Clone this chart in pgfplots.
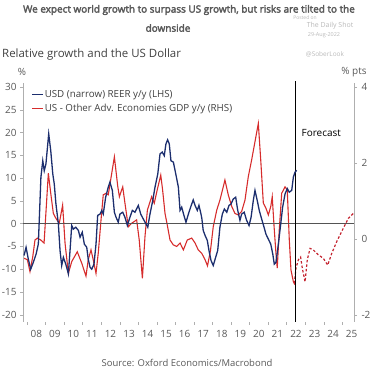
\documentclass[border=0pt]{standalone}
\usepackage{pgfplots}
\pgfplotsset{compat=1.18}
\usepackage{fontspec}
\setmainfont{Open Sans}
\newfontfamily\titlefont{Open Sans}[FakeBold=3]
\definecolor{usdblue}{RGB}{28,46,110}
\definecolor{gdpred}{RGB}{214,44,44}
\definecolor{fcred}{RGB}{196,36,48}
\definecolor{txtgray}{RGB}{89,89,89}
\definecolor{axgray}{RGB}{175,175,175}
\definecolor{wmgray}{RGB}{185,185,185}
\begin{document}
\begin{tikzpicture}[x=1bp,y=1bp]
\path[use as bounding box] (0,0) rectangle (374,370);
% ---- right-hand scale axis (GDP differential, red) ----
\begin{axis}[
  at={(23bp,48bp)}, anchor=south west,
  scale only axis, width=331bp, height=239bp,
  xmin=2007.784, xmax=2025.628, ymin=-2.18, ymax=4.116,
  axis y line*=right, axis x line=none,
  axis line style={-, draw=axgray},
  ytick={-2,0,2,4},
  tick align=outside, major tick length=3bp,
  every tick/.style={axgray},
  yticklabel style={font=\fontsize{10}{12}\selectfont, text=txtgray, xshift=1bp},
  /pgf/number format/assume math mode=true,
  clip=false,
]
\addplot[gdpred, line width=1.1bp] coordinates {
(2007.84,-0.50) (2008.02,-0.54) (2008.16,-0.85) (2008.31,-0.46) (2008.43,-0.02)
(2008.56,0.03) (2008.74,-0.02) (2008.92,-0.10) (2009.15,1.74) (2009.28,1.21)
(2009.42,0.68) (2009.56,0.55) (2009.74,0.42) (2009.92,0.90) (2010.05,-0.10)
(2010.23,-0.90) (2010.41,-0.59) (2010.71,-0.33) (2010.95,-0.63) (2011.18,-0.97)
(2011.30,-0.54) (2011.45,-0.28) (2011.57,-0.54) (2011.72,-0.90) (2011.84,-0.37)
(2011.99,0.51) (2012.11,1.17) (2012.26,1.21) (2012.38,1.17) (2012.71,2.17)
(2012.89,1.40) (2012.98,1.12) (2013.16,1.38) (2013.28,0.95) (2013.46,0.33)
(2013.64,0.42) (2013.91,0.51) (2014.05,-0.02) (2014.22,-1.03) (2014.36,0.07)
(2014.49,0.77) (2014.72,1.12) (2014.86,0.95) (2015.02,1.30) (2015.21,1.69)
(2015.31,1.30) (2015.44,0.68) (2015.56,0.38) (2015.71,-0.02) (2015.89,-0.15)
(2016.07,-0.19) (2016.25,-0.10) (2016.43,-0.28) (2016.64,-0.02) (2016.88,0.03)
(2017.06,-0.10) (2017.23,-0.28) (2017.42,-0.37) (2017.60,-0.54) (2017.73,-0.70)
(2017.89,-0.30) (2018.04,0.33) (2018.23,0.77) (2018.40,1.03) (2018.67,1.56)
(2018.85,1.17) (2019.04,0.86) (2019.21,0.68) (2019.39,0.64) (2019.57,0.73)
(2019.75,1.03) (2019.93,1.65) (2020.11,2.09) (2020.29,2.57) (2020.47,3.05)
(2020.60,2.09) (2020.74,0.95) (2020.88,0.82) (2021.01,0.64) (2021.14,0.86)
(2021.22,1.12) (2021.32,0.33) (2021.42,-0.37) (2021.49,-0.76) (2021.60,0.25)
(2021.73,1.21) (2021.91,1.38) (2022.03,1.30) (2022.14,-0.02) (2022.23,-0.81)
(2022.36,-1.12) (2022.45,-1.20)
};
\addplot[fcred, line width=1.2bp, dash pattern=on 2.5bp off 2bp] coordinates {
(2022.41,-1.16) (2022.50,-0.76) (2022.63,-0.54) (2022.75,-0.47) (2022.84,-0.76)
(2022.99,-1.12) (2023.11,-0.54) (2023.26,-0.24) (2023.43,-0.28) (2023.70,-0.41)
(2023.97,-0.50) (2024.21,-0.68) (2024.43,-0.37) (2024.70,-0.06) (2024.96,0.20)
(2025.32,0.55) (2025.59,0.68)
};
\end{axis}
% ---- left-hand scale axis (USD REER, blue) ----
\begin{axis}[
  at={(23bp,48bp)}, anchor=south west,
  scale only axis, width=331bp, height=239bp,
  xmin=2007.784, xmax=2025.628, ymin=-21.6, ymax=30.87,
  axis y line*=left, axis x line*=bottom,
  axis line style={-, draw=axgray},
  x axis line style={draw=none},
  ytick={-20,-15,...,30},
  xtick={2008.5,2009.5,...,2025.5},
  xticklabels={08,09,10,11,12,13,14,15,16,17,18,19,20,21,22,23,24,25},
  minor xtick={2008,2009,...,2025},
  tick align=outside, major tick length=3bp, minor tick length=3bp,
  every tick/.style={axgray},
  every major x tick/.style={draw=none},
  every minor x tick/.style={draw=axgray},
  yticklabel style={font=\fontsize{10}{12}\selectfont, text=txtgray},
  xticklabel style={font=\fontsize{10}{12}\selectfont, text=txtgray, yshift=-2bp},
  /pgf/number format/assume math mode=true,
  clip=false,
  legend style={at={(0.025,0.975)}, anchor=north west, draw=none, fill=none,
    font=\fontsize{9.8}{11}\selectfont, text=black!75, inner sep=0pt, row sep=3bp,
    nodes={inner sep=1bp}},
  legend cell align=left,
  legend image code/.code={\draw[#1] (0bp,0bp) -- (11bp,0bp);},
]
\addplot[darkgray!90, line width=0.9bp, forget plot] coordinates {(2007.784,0) (2025.628,0)};
\addplot[black, line width=0.9bp, forget plot] coordinates {(2022.45,-21.6) (2022.45,31.4)};
\addplot[usdblue, line width=1.3bp] coordinates {
(2007.84,-7.0) (2007.95,-5.2) (2008.07,-7.8) (2008.20,-10.0) (2008.34,-8.5)
(2008.49,-6.7) (2008.61,-4.5) (2008.66,0.7) (2008.75,10.2) (2008.85,13.8)
(2008.93,11.6) (2009.02,13.1) (2009.17,19.7) (2009.28,16.0) (2009.39,10.9)
(2009.47,8.7) (2009.56,4.3) (2009.69,0.0) (2009.78,-5.9) (2009.87,-9.2)
(2009.96,-7.4) (2010.09,-8.9) (2010.23,-11.0) (2010.32,-5.9) (2010.41,-0.4)
(2010.50,-1.2) (2010.63,-0.8) (2010.77,-1.5) (2010.86,-3.0) (2010.98,-1.9)
(2011.09,-4.5) (2011.22,-5.2) (2011.30,-7.8) (2011.40,-9.6) (2011.49,-10.0)
(2011.61,-8.9) (2011.72,-4.5) (2011.81,1.8) (2011.94,2.1) (2012.03,2.9)
(2012.11,2.1) (2012.24,5.8) (2012.38,8.0) (2012.47,9.1) (2012.60,7.3)
(2012.71,2.5) (2012.80,1.4) (2012.92,0.3) (2013.01,2.1) (2013.16,2.5)
(2013.28,1.4) (2013.41,-0.4) (2013.55,1.4) (2013.68,2.9) (2013.82,2.5)
(2014.00,4.0) (2014.13,2.1) (2014.27,1.0) (2014.42,-0.1) (2014.51,-0.8)
(2014.63,2.1) (2014.78,5.1) (2014.90,8.0) (2015.05,10.9) (2015.17,15.3)
(2015.29,15.7) (2015.40,14.9) (2015.49,17.5) (2015.58,18.4) (2015.67,17.5)
(2015.76,13.8) (2015.89,13.5) (2016.02,10.9) (2016.16,8.0) (2016.25,2.9)
(2016.34,3.6) (2016.46,1.8) (2016.57,0.3) (2016.70,2.1) (2016.82,3.6)
(2016.96,5.2) (2017.06,4.0) (2017.18,2.9) (2017.27,4.0) (2017.38,2.1)
(2017.43,1.0) (2017.50,-1.5) (2017.60,-2.6) (2017.72,-3.7) (2017.81,-5.9)
(2017.92,-8.1) (2018.04,-9.2) (2018.17,-7.4) (2018.28,-5.9) (2018.40,-0.8)
(2018.53,2.1) (2018.64,3.2) (2018.77,2.5) (2018.89,4.0) (2019.00,4.3)
(2019.12,5.4) (2019.25,5.8) (2019.36,2.9) (2019.48,0.7) (2019.57,2.1)
(2019.71,2.5) (2019.84,0.7) (2019.97,-0.4) (2020.08,1.4) (2020.20,5.1)
(2020.29,7.3) (2020.41,5.1) (2020.52,2.9) (2020.65,1.0) (2020.78,-0.8)
(2020.88,-2.3) (2021.01,-3.4) (2021.14,-4.5) (2021.25,-6.7) (2021.33,-8.9)
(2021.42,-8.5) (2021.55,-4.5) (2021.68,0.0) (2021.78,3.6) (2021.91,6.5)
(2022.03,7.7) (2022.14,6.9) (2022.27,7.3) (2022.36,10.2) (2022.45,11.3)
(2022.54,11.7)
};
\addlegendentry{USD (narrow) REER y/y (LHS)}
\addlegendimage{gdpred, line width=1.1bp}
\addlegendentry{US - Other Adv. Economies GDP y/y (RHS)}
\node[anchor=west, font=\fontsize{10}{12}\selectfont, text=black] at (axis cs:2022.62,19.9) {Forecast};
\end{axis}
% ---- texts ----
\node[font=\titlefont\fontsize{10}{11}\selectfont, text=txtgray] at (189,360) {We expect world growth to surpass US growth, but risks are tilted to the};
\node[font=\titlefont\fontsize{10}{11}\selectfont, text=txtgray] at (168,342) {downside};
\node[font=\fontsize{5}{5.5}\selectfont, text=wmgray, inner sep=0pt] at (305,352) {Posted on};
\node[font=\fontsize{7}{8}\selectfont, text=wmgray, inner sep=0pt] at (330,344.5) {The Daily Shot};
\node[font=\fontsize{5.5}{6}\selectfont, text=wmgray, inner sep=0pt] at (324,335) {29-Aug-2022};
\node[font=\fontsize{6.5}{7}\selectfont, text=wmgray] at (325,316) {@SoberLook};
\node[anchor=west, font=\fontsize{11.5}{13}\selectfont, text=black!75, inner sep=0pt] at (2,315.5) {Relative growth and the US Dollar};
\node[font=\fontsize{10}{12}\selectfont, text=txtgray] at (22,298) {\%};
\node[font=\fontsize{10}{12}\selectfont, text=txtgray] at (354,298) {\% pts};
\node[font=\fontsize{9.5}{11}\selectfont, text=txtgray] at (187,7) {Source: Oxford Economics/Macrobond};
\end{tikzpicture}
\end{document}
